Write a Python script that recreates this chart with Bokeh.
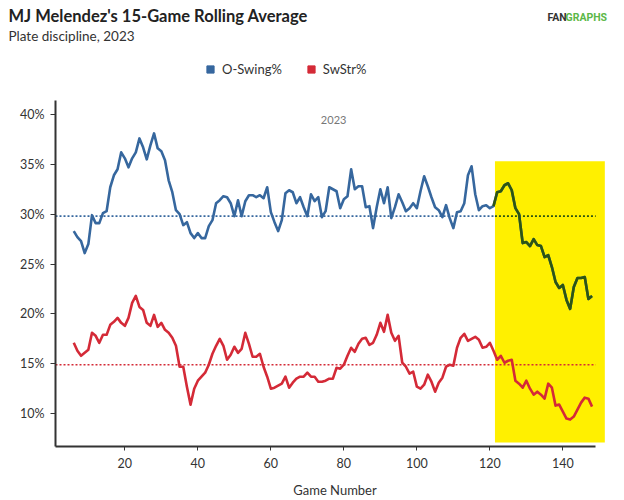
from bokeh.plotting import figure
from bokeh.layouts import column
from bokeh.models import Label, Legend, LegendItem, FixedTicker, PrintfTickFormatter, Range1d
from bokeh.embed import file_html
from bokeh.resources import INLINE

# ---------------- data ----------------
games = list(range(6, 149))
o_swing = [28.3, 27.7, 27.3, 26.1, 27.0, 29.9, 29.1, 29.1, 30.1, 30.3,
           32.7, 33.9, 34.5, 36.2, 35.6, 34.7, 35.6, 36.2, 37.6, 36.7,
           35.5, 36.9, 38.1, 36.6, 36.3, 35.4, 33.4, 32.2, 30.4, 30.0,
           28.9, 29.2, 28.1, 27.6, 28.1, 27.6, 27.6, 28.8, 29.4, 31.1,
           31.4, 31.8, 31.7, 31.1, 29.8, 31.4, 29.8, 31.3, 31.9, 31.9,
           31.7, 31.9, 31.6, 32.7, 30.2, 29.2, 28.3, 29.4, 32.1, 32.4,
           32.2, 31.1, 31.7, 30.7, 29.8, 32.0, 31.3, 31.7, 29.7, 30.3,
           32.7, 32.5, 32.3, 30.6, 31.5, 31.8, 34.5, 32.5, 32.8, 32.8,
           30.7, 30.8, 28.6, 30.7, 32.5, 31.1, 32.7, 29.6, 30.7, 32.0,
           31.2, 30.3, 30.6, 31.1, 30.6, 32.3, 33.8, 32.8, 31.7, 30.7,
           30.4, 29.7, 30.9, 29.6, 28.6, 30.2, 30.3, 31.1, 33.9, 34.8,
           32.0, 30.4, 30.8, 30.9, 30.6, 30.8, 32.2, 32.3, 32.9, 33.1,
           32.4, 30.6, 30.0, 27.1, 27.2, 26.8, 27.5, 26.9, 26.8, 25.7,
           25.9, 24.7, 23.2, 22.6, 22.9, 21.4, 20.5, 22.7, 23.6, 23.6,
           23.7, 21.5, 21.8]
sw_str = [17.1, 16.3, 15.8, 16.1, 16.4, 18.1, 17.8, 17.1, 17.9, 17.9,
          18.9, 19.2, 19.6, 19.1, 18.8, 19.6, 21.1, 21.8, 20.7, 20.4,
          19.1, 18.8, 19.9, 18.7, 19.1, 18.4, 18.1, 17.6, 16.8, 14.7,
          14.7, 12.7, 10.9, 12.5, 13.3, 13.7, 14.1, 14.9, 16.0, 16.8,
          17.5, 16.8, 15.4, 15.9, 16.7, 16.1, 16.5, 18.1, 17.0, 15.7,
          15.7, 16.0, 14.7, 13.7, 12.5, 12.6, 12.8, 13.0, 13.7, 12.6,
          13.1, 13.5, 13.7, 13.7, 14.1, 13.7, 13.7, 13.2, 13.2, 13.3,
          13.5, 13.5, 14.6, 14.5, 14.9, 15.8, 16.6, 16.2, 17.0, 17.5,
          17.6, 16.9, 17.1, 17.9, 19.1, 18.2, 19.9, 18.1, 17.3, 17.8,
          15.1, 14.7, 14.0, 14.2, 12.7, 12.5, 12.9, 13.9, 13.2, 12.2,
          13.1, 13.6, 14.7, 14.9, 14.8, 16.6, 17.6, 18.0, 17.3, 17.5,
          17.7, 17.4, 16.6, 16.7, 17.1, 16.3, 15.4, 15.8, 15.1, 15.3,
          15.4, 13.3, 13.0, 12.6, 13.3, 12.5, 11.9, 12.2, 11.9, 11.5,
          13.0, 12.6, 10.8, 10.9, 10.2, 9.5, 9.4, 9.7, 10.4, 11.1,
          11.6, 11.5, 10.7]
avg_o_swing = 29.8
avg_sw_str = 14.9
series_names = ["O-Swing%", "SwStr%"]
x_ticks = [20, 40, 60, 80, 100, 120, 140]
y_ticks = [10, 15, 20, 25, 30, 35, 40]
highlight_x = (121.4, 151.5)
highlight_y = (7.1, 35.3)
axis_x_bounds = (1, 149)

# ---------------- layout ----------------
W = 616
HEAD_H = 92
MAIN_H = 408
FL, FR = 55, 614
FT, FB = 8, 355          # frame top / bottom inside main figure
XMIN = 1.0
XMAX = XMIN + (FR - FL) / 3.65
YMIN, YMAX = 6.7, 41.4

BLUE = "#36679e"
RED = "#d42a37"
GREEN = "#2e5512"
YELLOW = "#fff000"
FONT = "Lato"

# ---------- header figure (title, subtitle, logo, legend) ----------
head = figure(width=W, height=HEAD_H, output_backend="svg", toolbar_location=None,
              x_range=Range1d(0, W), y_range=Range1d(HEAD_H, 0),
              x_axis_location=None, y_axis_location=None,
              min_border=0, min_border_left=0, min_border_right=0,
              min_border_top=0, min_border_bottom=0)
head.frame_align = False
head.outline_line_color = None
head.grid.visible = False

def add_label(fig, text, x, y, size, color="#222222", style="normal", align="left", font=FONT):
    fig.add_layout(Label(x=x, y=y, text=text, text_font=font,
                         text_font_size=size, text_color=color, text_font_style=style,
                         text_align=align, text_baseline="alphabetic"))

add_label(head, "MJ Melendez's 15-Game Rolling Average", 8, 15, "16.5px", style="bold")
add_label(head, "Plate discipline, 2023", 8, 35, "13.5px", color="#333333")
add_label(head, "FAN", 547, 17, "10.5px", color="#333333", style="bold", font="Roboto")
add_label(head, "GRAPHS", 565, 17, "10.5px", color="#5cb848", style="bold", font="Roboto")

nan = float("nan")
r_leg1 = head.scatter(x=[nan], y=[nan], marker="square", fill_color=BLUE, line_color=BLUE)
r_leg2 = head.scatter(x=[nan], y=[nan], marker="square", fill_color=RED, line_color=RED)
legend = Legend(items=[LegendItem(label=series_names[0], renderers=[r_leg1]),
                       LegendItem(label=series_names[1], renderers=[r_leg2])],
                location=(201, 14), orientation="horizontal",
                border_line_color=None, background_fill_alpha=0,
                padding=0, margin=0, spacing=20, glyph_width=18, glyph_height=18,
                label_standoff=3, label_text_font=FONT, label_text_font_size="13px",
                label_text_color="#333333")
head.add_layout(legend, "center")

# ---------- main figure ----------
p = figure(width=W, height=MAIN_H, output_backend="svg", toolbar_location=None,
           x_range=Range1d(XMIN, XMAX), y_range=Range1d(YMIN, YMAX),
           min_border_left=FL, min_border_right=W - FR,
           min_border_top=FT, min_border_bottom=MAIN_H - FB)
p.frame_align = False
p.outline_line_color = None
p.grid.visible = False
p.background_fill_color = "white"

p.quad(left=highlight_x[0], right=highlight_x[1], bottom=highlight_y[0], top=highlight_y[1],
       fill_color=YELLOW, line_color=None)

split = highlight_x[0]
p.line([axis_x_bounds[0], split], [avg_o_swing, avg_o_swing], line_color=BLUE,
       line_dash="2 2", line_width=1.6)
p.line([split, axis_x_bounds[1]], [avg_o_swing, avg_o_swing], line_color=GREEN,
       line_dash="2 2", line_width=1.6)
p.line([axis_x_bounds[0], axis_x_bounds[1]], [avg_sw_str, avg_sw_str], line_color=RED,
       line_dash="2 2", line_width=1.6)

p.line(games, o_swing, line_color=BLUE, line_width=2.6, line_join="round")
idx = [i for i, g in enumerate(games) if g >= 121]
p.line([games[i] for i in idx], [o_swing[i] for i in idx], line_color=GREEN,
       line_width=2.6, line_join="round")
p.line(games, sw_str, line_color=RED, line_width=2.6, line_join="round")

for ax in (p.xaxis[0], p.yaxis[0]):
    ax.axis_line_color = "#333333"
    ax.axis_line_width = 2
    ax.major_tick_line_color = "#333333"
    ax.minor_tick_line_color = None
    ax.major_label_text_font = FONT
    ax.major_label_text_font_size = "12.5px"
    ax.major_label_text_color = "#333333"
    ax.major_tick_in = 0
p.xaxis.bounds = axis_x_bounds
p.xaxis.ticker = FixedTicker(ticks=x_ticks)
p.xaxis.major_tick_out = 4
p.xaxis.major_label_standoff = 7
p.xaxis.axis_label = "Game Number"
p.xaxis.axis_label_text_font = FONT
p.xaxis.axis_label_text_font_size = "13px"
p.xaxis.axis_label_text_font_style = "normal"
p.xaxis.axis_label_text_color = "#333333"
p.xaxis.axis_label_standoff = 11
p.yaxis.ticker = FixedTicker(ticks=y_ticks)
p.yaxis.formatter = PrintfTickFormatter(format="%d%%")
p.yaxis.major_tick_out = 5
p.yaxis.major_label_standoff = 6

p.add_layout(Label(x=77.2, y=39.4, text="2023", text_font=FONT, text_font_size="11px",
                   text_color="#777777", text_align="center", text_baseline="alphabetic"))

layout = column(head, p, spacing=0)
open("out.html", "w").write(file_html(layout, INLINE))
